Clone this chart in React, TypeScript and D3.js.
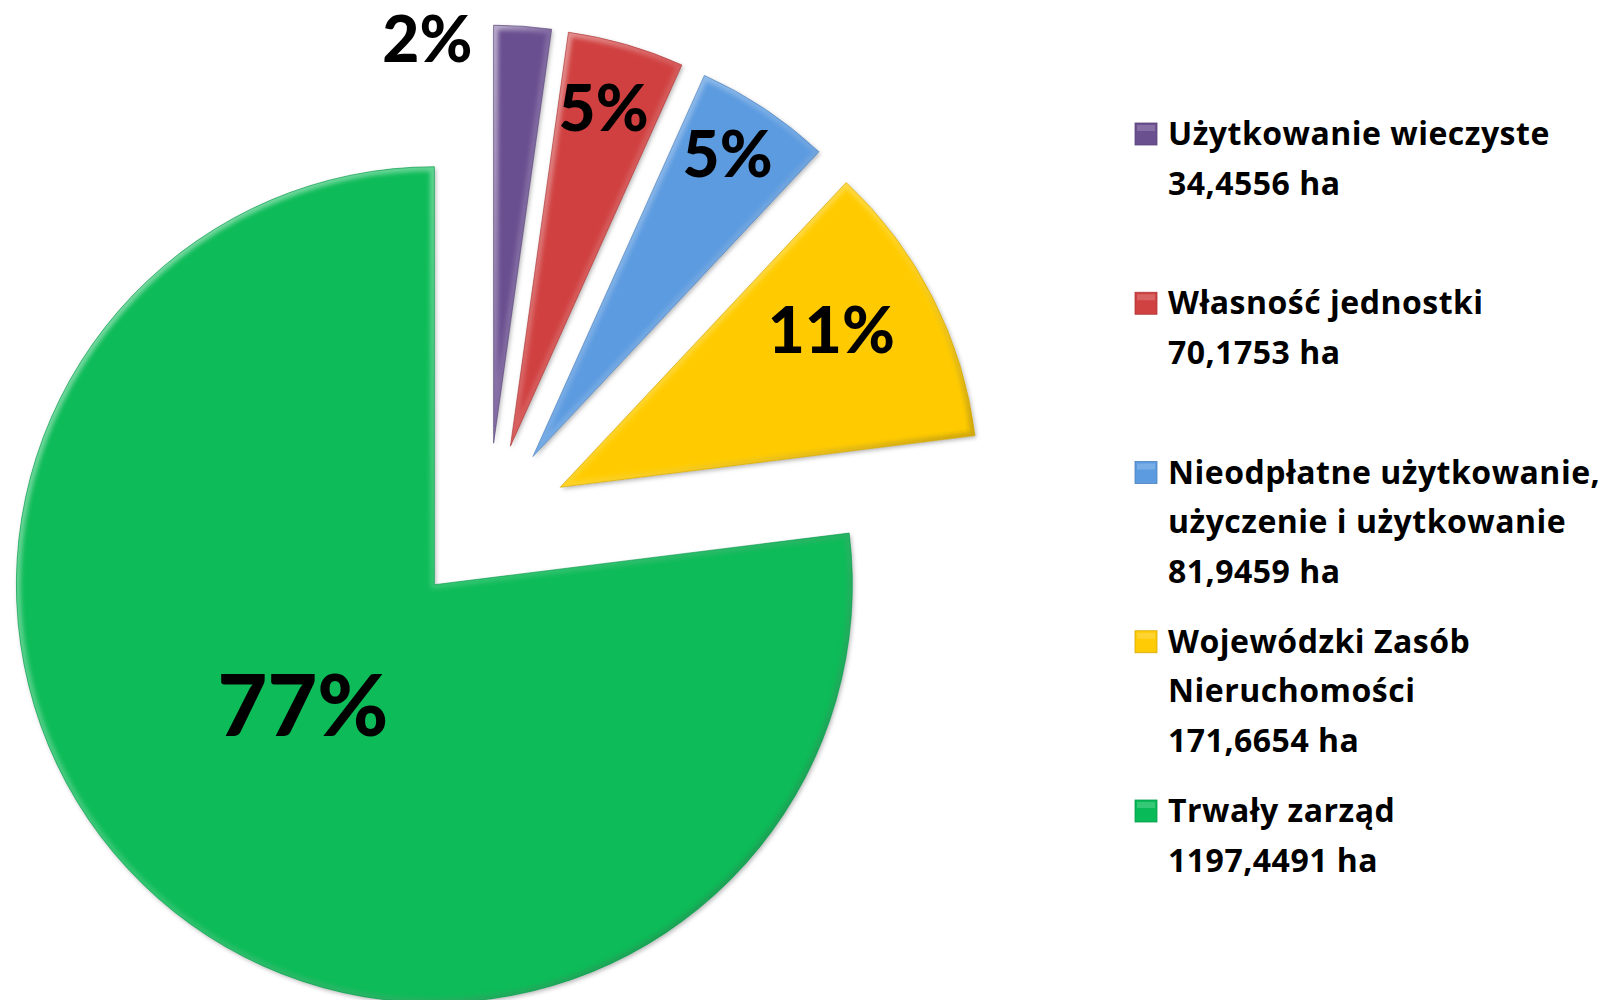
import React from "react";
import * as d3 from "d3";

const categories = [
  "Użytkowanie wieczyste",
  "Własność jednostki",
  "Nieodpłatne użytkowanie, użyczenie i użytkowanie",
  "Wojewódzki Zasób Nieruchomości",
  "Trwały zarząd",
];
const valuesHa = [34.4556, 70.1753, 81.9459, 171.6654, 1197.4491];
const percentLabels = ["2%", "5%", "5%", "11%", "77%"];
const legendLines = [
  ["Użytkowanie wieczyste", "34,4556 ha"],
  ["Własność jednostki", "70,1753 ha"],
  ["Nieodpłatne użytkowanie,", "użyczenie i użytkowanie", "81,9459 ha"],
  ["Wojewódzki Zasób", "Nieruchomości", "171,6654 ha"],
  ["Trwały zarząd", "1197,4491 ha"],
];
const colors = ["#6b5090", "#d04141", "#5c9be0", "#ffcb05", "#08bb58"];

// layout
const W = 1612;
const H = 1000;
const CX = 488;
const CY = 524;
const R = 418;
const EXPLODE = 81;
const labelPlacement = [
  { frac: 0.98, dAngle: -13.3, size: 64 },
  { frac: 0.84, dAngle: -0.7, size: 64 },
  { frac: 0.86, dAngle: -0.9, size: 64 },
  { frac: 0.75, dAngle: -3.2, size: 64 },
  { frac: 0.426, dAngle: 6.1, size: 86 },
];
const FONT = "Lato, 'Open Sans', 'DejaVu Sans', sans-serif";
const LEGEND_FONT = "'Open Sans', Lato, 'DejaVu Sans', sans-serif";

export default function App() {
  const pie = d3
    .pie<number>()
    .sort(null)
    .value((d) => d)
    .startAngle(0)
    .endAngle(2 * Math.PI);
  const arcs = pie(valuesHa);
  const arc = d3.arc<d3.PieArcDatum<number>>().innerRadius(0).outerRadius(R);

  const legendY = d3.scaleLinear().domain([0, categories.length - 1]).range([145, 822]);
  const lineH = 49.5;

  return (
    <svg
      width={W}
      height={H}
      style={{ position: "absolute", left: 0, top: 0, display: "block", background: "#fff" }}
      fontFamily={FONT}
    >
      <defs>
        <filter id="shadow" x="-20%" y="-20%" width="140%" height="140%">
          <feDropShadow dx="1.5" dy="2" stdDeviation="2" floodColor="#000" floodOpacity="0.28" />
        </filter>
        <filter id="blur">
          <feGaussianBlur stdDeviation="2" />
        </filter>
        <linearGradient id="rim" x1="0" y1="0" x2="1" y2="1">
          <stop offset="0%" stopColor="#ffffff" stopOpacity="0.55" />
          <stop offset="50%" stopColor="#ffffff" stopOpacity="0.15" />
          <stop offset="100%" stopColor="#000000" stopOpacity="0.25" />
        </linearGradient>
        {arcs.map((a, i) => (
          <clipPath id={`clip${i}`} key={i}>
            <path d={arc(a) || ""} />
          </clipPath>
        ))}
      </defs>
      {arcs.map((a, i) => {
        const mid = (a.startAngle + a.endAngle) / 2;
        const ox = CX + Math.sin(mid) * EXPLODE;
        const oy = CY - Math.cos(mid) * EXPLODE;
        const d = arc(a) || "";
        return (
          <g key={i} transform={`translate(${ox},${oy})`}>
            <path d={d} fill={colors[i]} filter="url(#shadow)" />
            <g clipPath={`url(#clip${i})`}>
              <path
                d={d}
                fill="none"
                stroke="url(#rim)"
                strokeWidth={9}
                strokeLinejoin="round"
                filter="url(#blur)"
              />
            </g>
            <path d={d} fill="none" stroke={d3.color(colors[i])!.darker(0.6).toString()} strokeWidth={1} strokeOpacity={0.6} />
          </g>
        );
      })}
      {arcs.map((a, i) => {
        const mid = (a.startAngle + a.endAngle) / 2;
        const ox = CX + Math.sin(mid) * EXPLODE;
        const oy = CY - Math.cos(mid) * EXPLODE;
        const p = labelPlacement[i];
        const ang = mid + (p.dAngle * Math.PI) / 180;
        const rr = p.frac * R;
        const x = ox + Math.sin(ang) * rr;
        const y = oy - Math.cos(ang) * rr;
        return (
          <text
            key={`l${i}`}
            x={x}
            y={y}
            dy="0.36em"
            textAnchor="middle"
            fontWeight={900}
            fontSize={p.size}
            fill="#000"
          >
            {percentLabels[i]}
          </text>
        );
      })}
      {legendLines.map((lines, i) => {
        const y0 = legendY(i);
        return (
          <g key={`lg${i}`}>
            <rect
              x={1135}
              y={y0 - 22}
              width={22}
              height={22}
              fill={colors[i]}
              stroke={d3.color(colors[i])!.darker(0.5).toString()}
              strokeWidth={0.8}
            />
            <rect x={1137} y={y0 - 20} width={18} height={6} fill="#fff" opacity={0.18} />
            {lines.map((t, j) => (
              <text
                key={j}
                x={1168}
                y={y0 + j * lineH}
                fontFamily={LEGEND_FONT}
                fontSize={32}
                letterSpacing={0.5}
                fontWeight={700}
                fill="#000"
              >
                {t}
              </text>
            ))}
          </g>
        );
      })}
    </svg>
  );
}
